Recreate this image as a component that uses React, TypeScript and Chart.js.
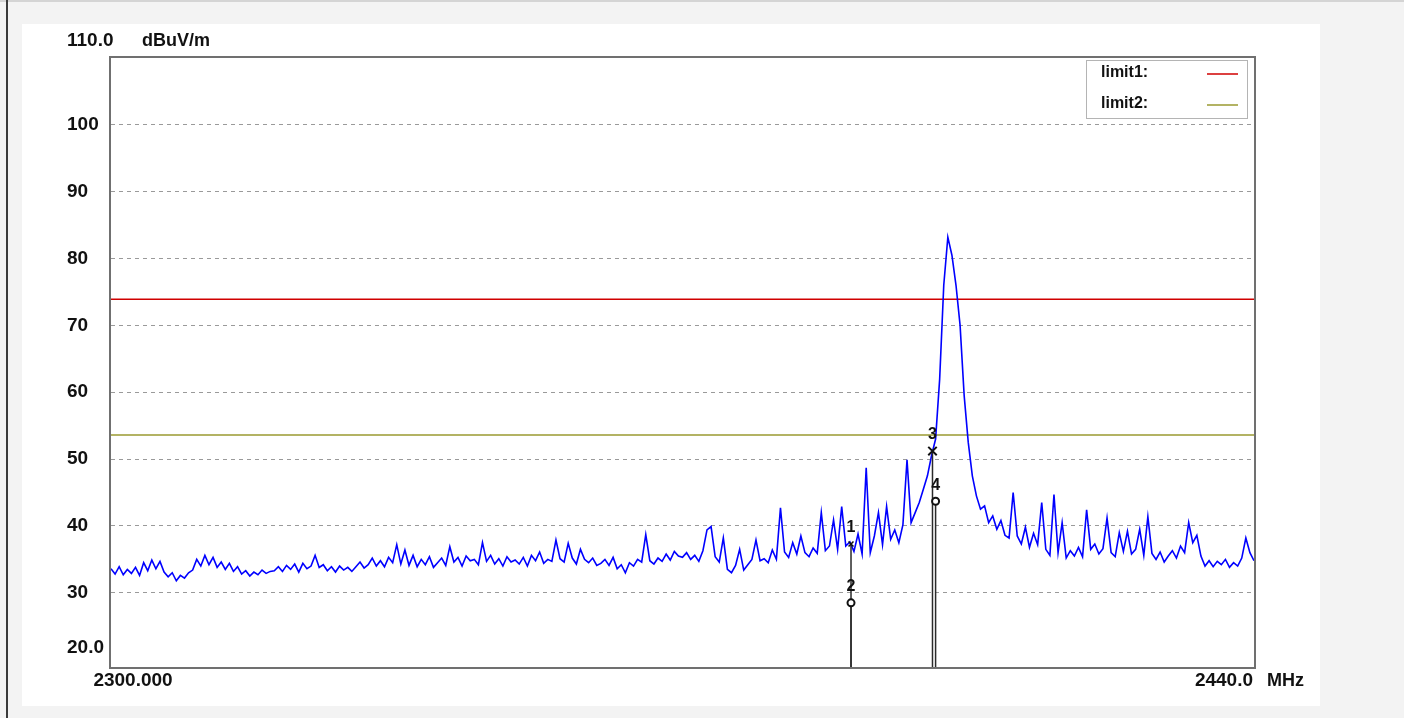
import React, { useEffect, useRef } from "react";
import { Chart, registerables } from "chart.js";

Chart.register(...registerables);

// ---- axis ----
const X_MIN = 2300;
const X_MAX = 2440;
const Y_MIN = 18.9;
const Y_MAX = 110;
const yTicks = [30, 40, 50, 60, 70, 80, 90, 100];
const yTopLabel = "110.0";
const yBottomLabel = "20.0";
const yUnit = "dBuV/m";
const xStartLabel = "2300.000";
const xEndLabel = "2440.0";
const xUnit = "MHz";

// ---- trace (dBuV/m), one value every 0.5 MHz starting at 2300 MHz ----
const F_START = 2300;
const F_STEP = 0.5;
const seg2300 = [33.6, 32.8, 33.9, 32.7, 33.5, 32.9, 33.8, 32.6, 34.5, 33.3, 34.9, 33.6, 34.7, 33.1, 32.4, 33.0, 31.8, 32.6, 32.2, 33.0];
const seg2310 = [33.4, 35.0, 34.0, 35.6, 34.2, 35.3, 33.8, 34.6, 33.5, 34.4, 33.2, 33.9, 32.8, 33.3, 32.5, 33.1, 32.7, 33.4, 32.9, 33.2];
const seg2320 = [33.3, 33.9, 33.2, 34.1, 33.5, 34.3, 33.1, 34.4, 33.6, 34.0, 35.6, 33.8, 34.2, 33.3, 33.9, 33.1, 34.0, 33.4, 33.8, 33.2];
const seg2330 = [33.9, 34.6, 33.7, 34.2, 35.2, 34.0, 34.8, 33.9, 35.3, 34.5, 37.2, 34.3, 36.4, 34.1, 35.6, 33.9, 35.0, 34.2, 35.4, 33.8];
const seg2340 = [34.5, 35.2, 34.1, 36.9, 34.6, 35.3, 34.0, 35.5, 34.8, 35.0, 34.2, 37.5, 34.7, 35.6, 34.3, 35.1, 34.0, 35.4, 34.6, 34.9];
const seg2350 = [34.3, 35.3, 34.0, 35.6, 34.8, 36.1, 34.4, 35.0, 34.7, 37.9, 35.1, 34.6, 37.4, 35.2, 34.3, 36.5, 35.0, 34.5, 35.2, 34.1];
const seg2360 = [34.4, 35.0, 34.1, 35.3, 33.6, 34.2, 33.0, 34.5, 34.0, 35.0, 34.6, 38.7, 34.8, 34.3, 35.2, 34.7, 35.8, 34.9, 36.2, 35.5];
const seg2370 = [35.3, 36.0, 35.0, 35.6, 34.7, 36.3, 39.4, 39.9, 35.4, 34.6, 38.2, 33.5, 33.0, 34.1, 36.5, 33.4, 34.2, 35.0, 37.9, 34.8];
const seg2380 = [35.1, 34.5, 36.4, 35.0, 42.7, 36.1, 35.3, 37.5, 35.8, 38.5, 36.0, 35.4, 36.7, 35.9, 42.0, 36.3, 37.0, 40.9, 36.5, 42.9];
const seg2390 = [37.0, 37.6, 36.2, 38.8, 35.8, 48.7, 36.0, 38.5, 42.0, 37.2, 42.9, 38.0, 39.4, 37.5, 40.2, 49.9, 40.5, 42.0, 43.5, 45.5];
const seg2400 = [47.5, 50.5, 53.0, 62.0, 76.0, 83.2, 80.5, 76.0, 70.0, 59.5, 52.5, 47.5, 44.5, 42.5, 43.0, 40.5, 41.5, 39.5, 40.8, 38.6];
const seg2410 = [38.2, 45.0, 38.5, 37.3, 39.8, 36.8, 38.9, 37.2, 43.5, 36.5, 35.6, 44.7, 36.0, 40.5, 35.2, 36.3, 35.5, 36.8, 35.4, 42.4];
const seg2420 = [36.5, 37.3, 35.8, 36.6, 41.2, 36.0, 35.4, 39.0, 36.2, 39.2, 35.8, 36.5, 39.5, 35.6, 41.4, 35.9, 35.0, 36.1, 34.6, 35.5];
const seg2430 = [36.3, 35.2, 37.0, 36.0, 40.5, 37.5, 38.6, 35.5, 34.0, 34.8, 33.9, 34.7, 34.2, 35.0, 33.8, 34.5, 34.0, 35.2, 38.2, 36.0, 34.8];

const traceLevels = [
  ...seg2300, ...seg2310, ...seg2320, ...seg2330, ...seg2340, ...seg2350, ...seg2360,
  ...seg2370, ...seg2380, ...seg2390, ...seg2400, ...seg2410, ...seg2420, ...seg2430,
];
const traceFreqs = traceLevels.map((_, i) => F_START + i * F_STEP);

// ---- limits ----
const limitNames = ["limit1:", "limit2:"];
const limitLevels = [73.9, 53.6];
const limitColors = ["#d00000", "#9a9a30"];

// ---- markers ----
const markerIds = ["1", "2", "3", "4"];
const markerFreqs = [2390.64, 2390.64, 2400.62, 2401.0];
const markerLevels = [37.3, 28.5, 51.2, 43.7];
const markerSymbols = ["x", "o", "X", "o"];

const FONT = "'Liberation Sans', Arial, sans-serif";
const INK = "#111111";

const bgPlugin = {
  id: "pageBg",
  beforeDraw(chart: any) {
    const { ctx, width, height } = chart;
    ctx.save();
    ctx.fillStyle = "#f3f3f3";
    ctx.fillRect(0, 0, width, height);
    ctx.fillStyle = "#ffffff";
    ctx.fillRect(22, 24, 1298, 682);
    ctx.fillStyle = "#d4d4d4";
    ctx.fillRect(0, 0, width, 2);
    ctx.fillStyle = "#3a3a3a";
    ctx.fillRect(6, 0, 2, height);
    ctx.restore();
  },
};

const overlayPlugin = {
  id: "overlay",
  afterDraw(chart: any) {
    const { ctx, chartArea } = chart;
    const xs = chart.scales.x;
    const ys = chart.scales.y;
    ctx.save();
    // plot frame
    ctx.strokeStyle = "#707070";
    ctx.lineWidth = 2;
    ctx.strokeRect(chartArea.left - 1, chartArea.top - 1, chartArea.right - chartArea.left + 2, chartArea.bottom - chartArea.top + 2);

    ctx.fillStyle = INK;
    ctx.textBaseline = "middle";
    ctx.textAlign = "left";
    ctx.font = `bold 19px ${FONT}`;
    ctx.fillText(yTopLabel, 67, 41);
    ctx.fillText(yBottomLabel, 67, 648);
    ctx.font = `bold 18px ${FONT}`;
    ctx.fillText(yUnit, 142, 41);

    ctx.font = `bold 19px ${FONT}`;
    ctx.textAlign = "center";
    ctx.fillText(xStartLabel, 133, 681);
    ctx.textAlign = "right";
    ctx.fillText(xEndLabel, xs.getPixelForValue(X_MAX) - 1, 681);
    ctx.textAlign = "left";
    ctx.font = `bold 18px ${FONT}`;
    ctx.fillText(xUnit, 1267, 681);

    // legend box
    ctx.fillStyle = "#ffffff";
    ctx.fillRect(1086, 60, 161, 58);
    ctx.strokeStyle = "#b4b4b4";
    ctx.lineWidth = 1;
    ctx.strokeRect(1086.5, 60.5, 161, 58);
    ctx.font = `bold 16px ${FONT}`;
    limitNames.forEach((name, i) => {
      const y = 73 + i * 31;
      ctx.fillStyle = INK;
      ctx.textAlign = "left";
      ctx.fillText(name, 1101, y);
      ctx.strokeStyle = limitColors[i];
      ctx.lineWidth = 1.5;
      ctx.beginPath();
      ctx.moveTo(1207, y + 1);
      ctx.lineTo(1238, y + 1);
      ctx.stroke();
    });

    // marker numbers
    ctx.fillStyle = INK;
    ctx.textAlign = "center";
    ctx.font = `bold 16px ${FONT}`;
    markerIds.forEach((id, i) => {
      const px = xs.getPixelForValue(markerFreqs[i]);
      const py = ys.getPixelForValue(markerLevels[i]);
      ctx.fillText(id, px, py - 16);
    });
    ctx.restore();
  },
};

export default function App() {
  const ref = useRef<HTMLCanvasElement | null>(null);

  useEffect(() => {
    if (!ref.current) return;

    const markerPointDs = {
      label: "markers",
      data: markerFreqs.map((f, i) => ({ x: f, y: markerLevels[i] })),
      showLine: false,
      pointStyle: markerSymbols.map((s) => (s === "o" ? "circle" : "crossRot")),
      pointRadius: markerSymbols.map((s) => (s === "X" ? 6 : 3.5)),
      pointBorderWidth: markerSymbols.map((s) => (s === "x" ? 1.5 : 2)),
      pointBorderColor: INK,
      pointBackgroundColor: "#ffffff",
      borderColor: INK,
      clip: false,
    };

    const markerLineDs = markerIds.map((id, i) => ({
      label: "mline" + id,
      data: [
        { x: markerFreqs[i], y: Y_MIN },
        { x: markerFreqs[i], y: markerLevels[i] },
      ],
      borderColor: "#2a2a2a",
      borderWidth: 1.5,
      pointRadius: 0,
      tension: 0,
    }));

    const traceDs = {
      label: "trace",
      data: traceFreqs.map((f, i) => ({ x: f, y: traceLevels[i] })),
      borderColor: "#0000ff",
      borderWidth: 1.6,
      pointRadius: 0,
      tension: 0,
    };

    const limitDs = limitLevels.map((lv, i) => ({
      label: limitNames[i],
      data: [
        { x: X_MIN, y: lv },
        { x: X_MAX, y: lv },
      ],
      borderColor: limitColors[i],
      borderWidth: 1.5,
      pointRadius: 0,
    }));

    const chart = new Chart(ref.current, {
      type: "line",
      data: { datasets: [markerPointDs as any, ...markerLineDs, traceDs, ...limitDs] },
      options: {
        animation: false,
        responsive: false,
        maintainAspectRatio: false,
        events: [],
        layout: { padding: { left: 67, top: 58, right: 150, bottom: 51 } },
        plugins: { legend: { display: false }, tooltip: { enabled: false } },
        scales: {
          x: { type: "linear", min: X_MIN, max: X_MAX, display: false },
          y: {
            type: "linear",
            min: Y_MIN,
            max: Y_MAX,
            afterBuildTicks: (s: any) => {
              s.ticks = yTicks.map((v) => ({ value: v }));
            },
            afterFit: (s: any) => {
              s.width = 44;
            },
            ticks: {
              color: INK,
              font: { family: FONT, size: 19, weight: "bold" },
              crossAlign: "far",
              padding: 0,
              autoSkip: false,
              callback: (v: any) => String(v),
            },
            grid: { color: "#9a9a9a", lineWidth: 1, drawTicks: false, tickLength: 0 },
            border: { display: false, dash: [4, 4] },
          },
        },
      } as any,
      plugins: [bgPlugin, overlayPlugin],
    });
    return () => chart.destroy();
  }, []);

  return (
    <div style={{ position: "absolute", left: 0, top: 0, width: 1404, height: 718 }}>
      <canvas ref={ref} width={1404} height={718} style={{ display: "block" }} />
    </div>
  );
}
